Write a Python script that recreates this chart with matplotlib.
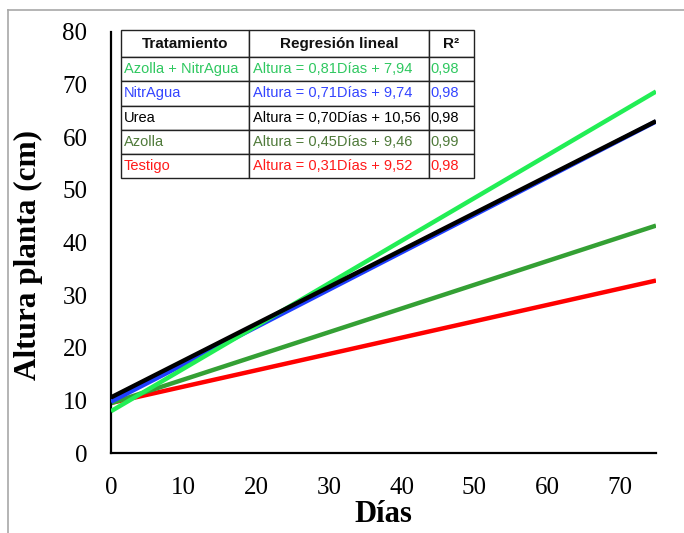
import numpy as np
import matplotlib
matplotlib.use("Agg")
import matplotlib.pyplot as plt
from matplotlib.lines import Line2D

# regression data
tratamientos = ["Azolla + NitrAgua", "NitrAgua", "Urea", "Azolla", "Testigo"]
pendientes = [0.81, 0.71, 0.70, 0.45, 0.31]
interceptos = [7.94, 9.74, 10.56, 9.46, 9.52]
r2 = ["0,98", "0,98", "0,98", "0,99", "0,98"]
ecuaciones = ["Altura = 0,81Días + 7,94", "Altura = 0,71Días + 9,74",
              "Altura = 0,70Días + 10,56", "Altura = 0,45Días + 9,46",
              "Altura = 0,31Días + 9,52"]
dias = np.array([0, 75])

line_colors = ["#22ee55", "#1f3fff", "#000000", "#34a034", "#ff0000"]
text_colors = ["#2fc860", "#3344ff", "#000000", "#4f7a3a", "#ff1a1a"]
zorders = [4, 3, 5, 2, 1]

fig = plt.figure(figsize=(6.84, 5.33), dpi=100)
ax = fig.add_axes([111/684, 1-453/533, 545/684, 421/533])

for i in range(len(tratamientos)):
    altura = pendientes[i]*dias + interceptos[i]
    ax.plot(dias, altura, color=line_colors[i], lw=3.2, zorder=zorders[i],
            solid_capstyle="butt")

ax.set_xlim(0, 75)
ax.set_ylim(0, 80)
ax.set_xticks(range(0, 80, 10))
ax.set_yticks(range(0, 90, 10))
for s in ["top", "right"]:
    ax.spines[s].set_visible(False)
for s in ["left", "bottom"]:
    ax.spines[s].set_linewidth(1.6)
ax.tick_params(length=0, labelsize=18, pad=17)
for lab in ax.get_xticklabels() + ax.get_yticklabels():
    lab.set_family("Liberation Serif")

ax.set_xlabel("Días", family="Liberation Serif", fontsize=22,
              fontweight="bold", labelpad=1)
ax.set_ylabel("Altura planta (cm)", family="Liberation Serif", fontsize=22.5,
              fontweight="bold")
ax.yaxis.set_label_coords(-0.125, 0.47)

# table with the regressions
cells = [[tratamientos[i], ecuaciones[i], r2[i]] for i in range(5)]
tab = ax.table(cellText=cells,
               colLabels=["Tratamiento", "Regresión lineal", "R²"],
               colWidths=[128, 180, 45], cellLoc="left",
               bbox=[10/545, 275/421, 353/545, 148/421], zorder=10)
tab.auto_set_font_size(False)
for (r, c), cell in tab.get_celld().items():
    cell.set_linewidth(1.0)
    cell.set_edgecolor("#222222")
    cell.PAD = 0.02
    txt = cell.get_text()
    txt.set_family("Liberation Sans")
    txt.set_fontsize(10.5)
    if r == 0:
        cell.set_height(27)
        txt.set_fontweight("bold")
        txt.set_fontsize(11)
        txt.set_color("#111111")
        txt.set_ha("center")
        cell._loc = "center"
    else:
        cell.set_height(24)
        txt.set_color(text_colors[r-1])

# grey frame of the original picture
fig.add_artist(Line2D([8/684, 8/684], [0, 1-10/533], color="#a8a8a8", lw=1.2))
fig.add_artist(Line2D([8/684, 1], [1-10/533, 1-10/533], color="#a8a8a8", lw=1.2))

fig.savefig("out.png", dpi=100)
